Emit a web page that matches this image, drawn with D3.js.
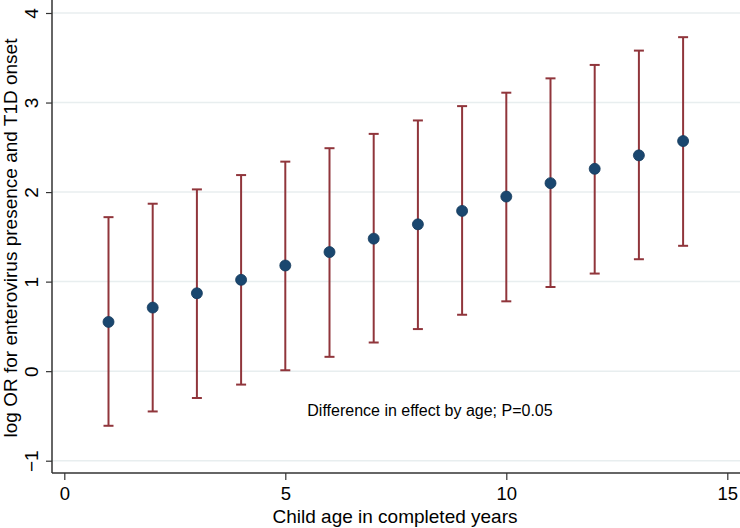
<!DOCTYPE html>
<html>
<head>
<meta charset="utf-8">
<script src="https://cdn.jsdelivr.net/npm/d3@7"></script>
<style>
  body { margin: 0; background: #fff; }
  text { font-family: Arial, "Liberation Sans", sans-serif; fill: #000; }
</style>
</head>
<body>
<script>
// data
var ages  = [1, 2, 3, 4, 5, 6, 7, 8, 9, 10, 11, 12, 13, 14];
var logOR = [0.55, 0.71, 0.87, 1.02, 1.18, 1.33, 1.48, 1.64, 1.79, 1.95, 2.10, 2.26, 2.41, 2.57];
var upper = [1.72, 1.87, 2.03, 2.19, 2.34, 2.49, 2.65, 2.80, 2.96, 3.11, 3.27, 3.42, 3.58, 3.73];
var lower = [-0.61, -0.45, -0.30, -0.15, 0.01, 0.16, 0.32, 0.47, 0.63, 0.78, 0.94, 1.09, 1.25, 1.40];
var xTicks = [0, 5, 10, 15];
var yTicks = [-1, 0, 1, 2, 3, 4];

var width = 740, height = 528;
var axisX = 52, axisY = 473;

var x = d3.scaleLinear().domain([0, 15]).range([64.3, 727.3]);
var y = d3.scaleLinear().domain([-1, 4]).range([460.7, 13]);

var svg = d3.select("body").append("svg")
    .attr("width", width)
    .attr("height", height);

// grid
svg.append("g").selectAll("line")
    .data(yTicks)
    .enter().append("line")
    .attr("x1", axisX).attr("x2", width)
    .attr("y1", function(d){ return y(d); })
    .attr("y2", function(d){ return y(d); })
    .attr("stroke", "#e8eeef")
    .attr("stroke-width", 1.5);

// y axis
var yAxis = svg.append("g")
    .attr("transform", "translate(" + axisX + ",0)")
    .call(d3.axisLeft(y).tickValues(yTicks).tickSize(6).tickSizeOuter(0).tickFormat(d3.format("d")));
yAxis.select(".domain").attr("d", "M0,0V" + axisY).attr("stroke", "#333").attr("stroke-width", 1.5);
yAxis.selectAll(".tick line").attr("stroke", "#333").attr("stroke-width", 1.2);
yAxis.selectAll(".tick text")
    .attr("x", null).attr("dy", null)
    .attr("transform", "translate(-21,0) rotate(-90)")
    .attr("text-anchor", "middle")
    .attr("dy", "0.35em")
    .style("font-size", "19px");

// x axis
var xAxis = svg.append("g")
    .attr("transform", "translate(0," + axisY + ")")
    .call(d3.axisBottom(x).tickValues(xTicks).tickSize(7).tickSizeOuter(0));
xAxis.select(".domain").attr("d", "M" + axisX + ",0H" + width).attr("stroke", "#333").attr("stroke-width", 1.5);
xAxis.selectAll(".tick line").attr("stroke", "#333").attr("stroke-width", 1.2);
xAxis.selectAll(".tick text")
    .attr("y", 27).attr("dy", null)
    .style("font-size", "18.5px");
svg.selectAll(".tick text").attr("font-family", null).attr("fill", "#000");

// error bars
var bars = svg.append("g").selectAll("g")
    .data(ages)
    .enter().append("g")
    .attr("stroke", "#90353b")
    .attr("stroke-width", 2);
bars.append("line")
    .attr("x1", function(d){ return x(d); })
    .attr("x2", function(d){ return x(d); })
    .attr("y1", function(d, i){ return y(lower[i]); })
    .attr("y2", function(d, i){ return y(upper[i]); });
bars.append("line")
    .attr("x1", function(d){ return x(d) - 5; })
    .attr("x2", function(d){ return x(d) + 5; })
    .attr("y1", function(d, i){ return y(upper[i]); })
    .attr("y2", function(d, i){ return y(upper[i]); });
bars.append("line")
    .attr("x1", function(d){ return x(d) - 5; })
    .attr("x2", function(d){ return x(d) + 5; })
    .attr("y1", function(d, i){ return y(lower[i]); })
    .attr("y2", function(d, i){ return y(lower[i]); });

// points
svg.append("g").selectAll("circle")
    .data(ages)
    .enter().append("circle")
    .attr("cx", function(d){ return x(d); })
    .attr("cy", function(d, i){ return y(logOR[i]); })
    .attr("r", 5.5)
    .attr("fill", "#1a476f")
    .attr("stroke", "#143a5c")
    .attr("stroke-width", 0.8);

// annotation
svg.append("text")
    .attr("x", 430)
    .attr("y", 416)
    .attr("text-anchor", "middle")
    .style("font-size", "16px")
    .text("Difference in effect by age; P=0.05");

// axis titles
svg.append("text")
    .attr("x", 395)
    .attr("y", 523)
    .attr("text-anchor", "middle")
    .style("font-size", "19px")
    .text("Child age in completed years");

svg.append("text")
    .attr("transform", "translate(17,238) rotate(-90)")
    .attr("text-anchor", "middle")
    .style("font-size", "19px")
    .text("log OR for enterovirus presence and T1D onset");
</script>
</body>
</html>
